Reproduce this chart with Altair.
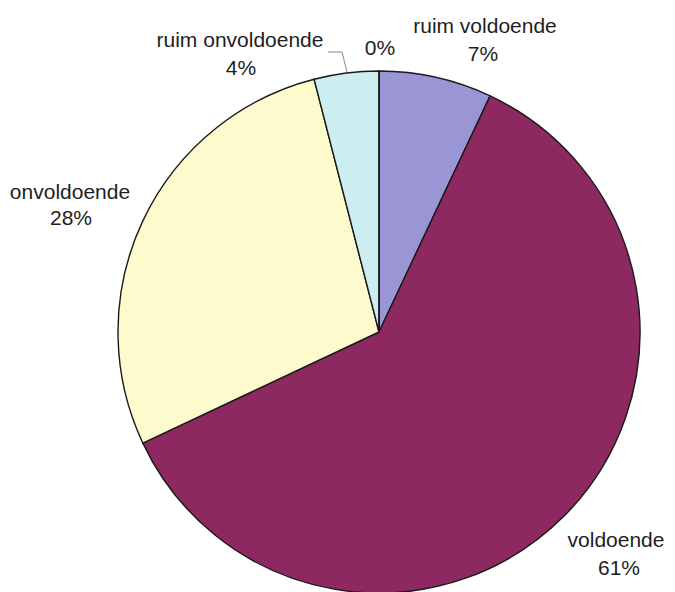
import altair as alt
import pandas as pd

categories = ["ruim voldoende", "voldoende", "onvoldoende", "ruim onvoldoende", "nul"]
percentages = [7, 61, 28, 4, 0]
colors = ["#9a96d6", "#8e2860", "#fdfbcd", "#cdeef0", "#ffffff"]

# label layout (plot-area pixels): name line and percent line positions
label_names = ["ruim voldoende", "voldoende", "onvoldoende", "ruim onvoldoende", ""]
name_pos = [(477, 25), (608, 539), (62, 191), (232, 39), None]
pct_pos = [(475, 53), (611, 567), (63, 217), (233, 67), (372, 47)]

pie_df = pd.DataFrame({
    "cat": categories,
    "value": percentages,
    "order": list(range(len(categories))),
})

rows = []
for name, val, npos, ppos in zip(label_names, percentages, name_pos, pct_pos):
    if npos is not None and name:
        rows.append({"txt": name, "lx": npos[0], "ly": npos[1]})
    rows.append({"txt": f"{val}%", "lx": ppos[0], "ly": ppos[1]})
label_df = pd.DataFrame(rows)

leader_df = pd.DataFrame({"lx": [320, 334, 339], "ly": [44, 44, 64], "o": [0, 1, 2]})

CX, CY, R = 371, 324, 261

pie = alt.Chart(pie_df).mark_arc(
    outerRadius=R, stroke="#1a1a1a", strokeWidth=1.4
).encode(
    theta=alt.Theta("value:Q", stack=True),
    order=alt.Order("order:Q"),
    color=alt.Color("cat:N", scale=alt.Scale(domain=categories, range=colors), legend=None),
    x=alt.value(CX),
    y=alt.value(CY),
)

labels = alt.Chart(label_df).mark_text(
    font="Liberation Sans", fontSize=21, color="#1e1e1e", align="center", baseline="alphabetic"
).encode(
    x=alt.X("lx:Q", scale=None, axis=None),
    y=alt.Y("ly:Q", scale=None, axis=None),
    text="txt:N",
)

leader = alt.Chart(leader_df).mark_line(color="#888888", strokeWidth=1).encode(
    x=alt.X("lx:Q", scale=None, axis=None),
    y=alt.Y("ly:Q", scale=None, axis=None),
    order="o:Q",
)

chart = alt.layer(pie, leader, labels).properties(
    width=659, height=584, padding=0, background="#ffffff",
    autosize=alt.AutoSizeParams(type="none"),
).configure_view(strokeWidth=0)

chart.save("out.html", embed_options={"renderer": "svg", "actions": False})
